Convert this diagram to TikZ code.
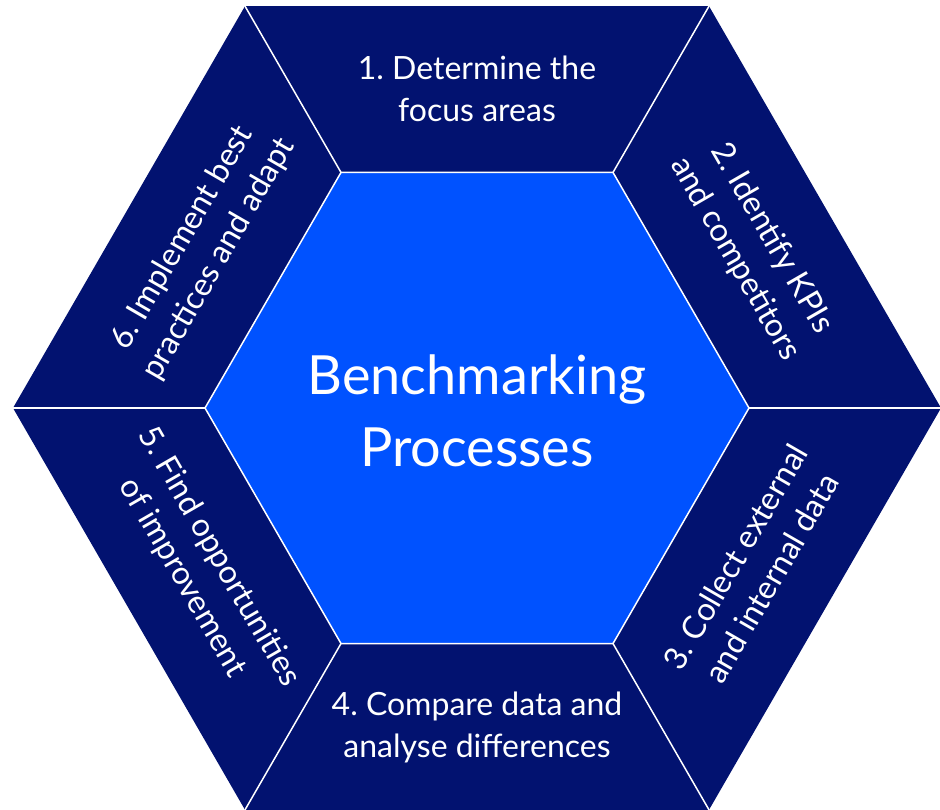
\documentclass[tikz,border=0pt]{standalone}
\usepackage{fontspec}
\setmainfont{Lato}
\frenchspacing
\definecolor{navy}{RGB}{2,18,112}
\definecolor{brightblue}{RGB}{0,82,255}
\begin{document}
\begin{tikzpicture}[x=1pt,y=1pt,
  seg/.style={text=white, align=center, inner sep=0pt, font=\fontsize{32}{42}\selectfont\frenchspacing},
  title/.style={text=white, align=center, inner sep=0pt, font=\fontsize{54}{72}\selectfont},
  sep/.style={draw=white, line width=1.5pt, line join=miter}]
\useasboundingbox (0,0) rectangle (940,810);
\coordinate (C) at (477,402);
\foreach \a [count=\i] in {0,60,...,300}{
  \path (C) ++(\a:464) coordinate (o\i);
  \path (C) ++(\a:272) coordinate (i\i);
}
\fill[navy] (o1)--(o2)--(o3)--(o4)--(o5)--(o6)--cycle;
\fill[brightblue] (i1)--(i2)--(i3)--(i4)--(i5)--(i6)--cycle;
\draw[sep] (i1)--(i2)--(i3)--(i4)--(i5)--(i6)--cycle;
\foreach \i in {1,...,6} \draw[sep] (i\i)--(o\i);
\node[title] (t0) at ([yshift=-3pt]C) {Benchmarking\\Processes};
\path (C) ++(90:319) node[seg] (t1) {1. Determine the\\focus areas};
\path (C) ++(30:319) node[seg, rotate=-60] (t2) {2. Identify KPIs\\and competitors};
\path (C) ++(-30:319) node[seg, rotate=60] (t3) {3. Collect external\\and internal data};
\path (C) ++(-90:319) node[seg] (t4) {4. Compare data and\\analyse differences};
\path (C) ++(210:319) node[seg, rotate=-60] (t5) {5. Find opportunities\\of improvement};
\path (C) ++(150:319) node[seg, rotate=60] (t6) {6. Implement best\\practices and adapt};
\end{tikzpicture}
\end{document}
